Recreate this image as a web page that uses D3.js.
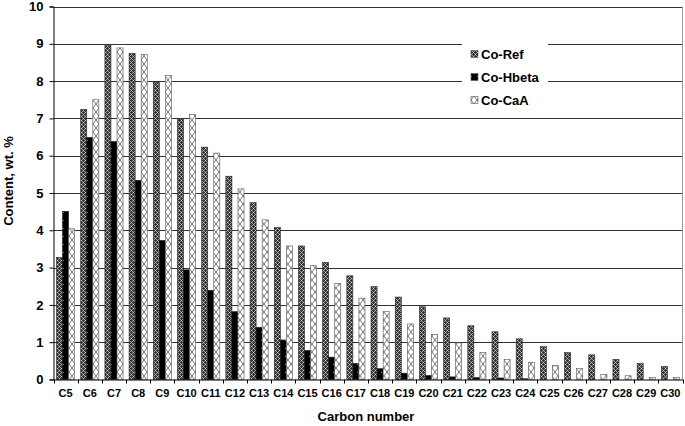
<!DOCTYPE html>
<html>
<head>
<meta charset="utf-8">
<script src="https://cdn.jsdelivr.net/npm/d3@7/dist/d3.min.js"></script>
<style>
  html, body { margin: 0; padding: 0; background: #fff; }
  svg { display: block; font-family: "Liberation Sans", Arial, sans-serif; font-weight: bold; }
</style>
</head>
<body>
<svg id="chart" width="685" height="426"></svg>
<script>
const categories = ["C5","C6","C7","C8","C9","C10","C11","C12","C13","C14","C15","C16","C17","C18","C19","C20","C21","C22","C23","C24","C25","C26","C27","C28","C29","C30"];
const seriesNames = ["Co-Ref", "Co-Hbeta", "Co-CaA"];
const coRef   = [3.27, 7.24, 8.95, 8.74, 7.97, 6.98, 6.23, 5.45, 4.74, 4.07, 3.58, 3.14, 2.78, 2.49, 2.21, 1.95, 1.65, 1.44, 1.28, 1.09, 0.88, 0.72, 0.66, 0.54, 0.43, 0.35];
const coHbeta = [4.51, 6.49, 6.38, 5.34, 3.73, 2.94, 2.39, 1.82, 1.40, 1.06, 0.78, 0.60, 0.43, 0.29, 0.17, 0.11, 0.07, 0.05, 0.04, 0.02, 0.0, 0.0, 0.0, 0.0, 0.0, 0.0];
const coCaA   = [4.04, 7.50, 8.89, 8.71, 8.15, 7.10, 6.07, 5.11, 4.28, 3.58, 3.05, 2.57, 2.18, 1.82, 1.49, 1.21, 0.98, 0.72, 0.54, 0.46, 0.38, 0.29, 0.13, 0.10, 0.05, 0.05];
const yTicks = [0,1,2,3,4,5,6,7,8,9,10];
const yTitle = "Content, wt. %";
const xTitle = "Carbon number";

const seriesValues = [coRef, coHbeta, coCaA];
const svg = d3.select("#chart");

// patterns
const defs = svg.append("defs");
const pRef = defs.append("pattern").attr("id","pRef").attr("patternUnits","userSpaceOnUse").attr("width",4).attr("height",4);
pRef.append("rect").attr("width",4).attr("height",4).attr("fill","#333");
pRef.append("rect").attr("x",1).attr("y",0).attr("width",1).attr("height",1).attr("fill","#d0d0d0");
pRef.append("rect").attr("x",0).attr("y",1).attr("width",1).attr("height",1).attr("fill","#999");
pRef.append("rect").attr("x",2).attr("y",1).attr("width",1).attr("height",1).attr("fill","#999");
pRef.append("rect").attr("x",3).attr("y",2).attr("width",1).attr("height",1).attr("fill","#d0d0d0");
pRef.append("rect").attr("x",2).attr("y",3).attr("width",1).attr("height",1).attr("fill","#999");
pRef.append("rect").attr("x",0).attr("y",3).attr("width",1).attr("height",1).attr("fill","#999");

const pHb = defs.append("pattern").attr("id","pHb").attr("patternUnits","userSpaceOnUse").attr("width",6).attr("height",8);
pHb.append("rect").attr("width",6).attr("height",8).attr("fill","#000");
pHb.append("rect").attr("x",3).attr("y",4).attr("width",1).attr("height",1).attr("fill","#777");

const pCa = defs.append("pattern").attr("id","pCa").attr("patternUnits","userSpaceOnUse").attr("width",6).attr("height",8);
pCa.append("rect").attr("width",6).attr("height",8).attr("fill","#fff");
pCa.append("path").attr("d","M0,0L6,8M6,0L0,8").attr("stroke","#777").attr("stroke-width",1).attr("fill","none");

const patterns = ["url(#pRef)", "url(#pHb)", "url(#pCa)"];

const mLeft = 53.5, mRight = 682.5, mTop = 6.5, mBottom = 379.5;

const x = d3.scaleBand().domain(categories).range([mLeft, mRight]).paddingInner(0.25).paddingOuter(0.125);
const xs = d3.scaleBand().domain(d3.range(3)).range([0, x.bandwidth()]);
const y = d3.scaleLinear().domain([0, 10]).range([mBottom, mTop]);

// gridlines
svg.append("g").selectAll("line").data(yTicks.filter(d => d > 0)).join("line")
  .attr("x1", mLeft).attr("x2", mRight)
  .attr("y1", d => Math.round(y(d)) + 0.5).attr("y2", d => Math.round(y(d)) + 0.5)
  .attr("stroke", "#333").attr("stroke-width", 1);

// right border
svg.append("line").attr("x1", mRight).attr("x2", mRight).attr("y1", mTop).attr("y2", mBottom)
  .attr("stroke", "#999").attr("stroke-width", 1);

// bars
const gBars = svg.append("g");
seriesValues.forEach((vals, si) => {
  gBars.append("g").selectAll("rect").data(vals).join("rect")
    .attr("x", (d, i) => x(categories[i]) + xs(si))
    .attr("width", xs.bandwidth())
    .attr("y", d => y(d))
    .attr("height", d => y(0) - y(d))
    .attr("fill", patterns[si])
    .attr("stroke", si === 2 ? "#555" : "#222")
    .attr("stroke-width", 0.6);
});

// y axis
const yAxis = d3.axisLeft(y).tickValues(yTicks).tickSize(4).tickPadding(6).tickFormat(d3.format("d"));
const gy = svg.append("g").attr("transform", `translate(${mLeft},0)`).call(yAxis);
gy.select(".domain").attr("stroke", "#000");
gy.selectAll(".tick line").attr("stroke", "#000");
gy.selectAll(".tick text").attr("font-size", 13).attr("font-weight", "bold")
  .attr("font-family", '"Liberation Sans", Arial, sans-serif').attr("fill", "#000");

// x axis
const xAxis = d3.axisBottom(x).tickSize(0).tickPadding(10);
const gx = svg.append("g").attr("transform", `translate(0,${mBottom})`).call(xAxis);
gx.select(".domain").attr("stroke", "#000");
gx.selectAll(".tick text").attr("font-size", 11).attr("font-weight", "bold")
  .attr("font-family", '"Liberation Sans", Arial, sans-serif').attr("fill", "#000");
// category boundary ticks
const step = x.step();
svg.append("g").selectAll("line").data(d3.range(categories.length + 1)).join("line")
  .attr("x1", i => Math.round(mLeft + i * step) + 0.5)
  .attr("x2", i => Math.round(mLeft + i * step) + 0.5)
  .attr("y1", mBottom).attr("y2", mBottom + 4)
  .attr("stroke", "#000");

// titles
svg.append("text").attr("x", 366).attr("y", 420.5).attr("text-anchor", "middle")
  .attr("font-size", 13).text(xTitle);
svg.append("text").attr("transform", `translate(13,181) rotate(-90)`)
  .attr("text-anchor", "middle").attr("font-size", 13).text(yTitle);

// legend
const lg = svg.append("g");
lg.append("rect").attr("x", 462).attr("y", 40).attr("width", 86).attr("height", 72).attr("fill", "#fff");
seriesNames.forEach((name, i) => {
  const cy = 54 + i * 23;
  lg.append("rect").attr("x", 471).attr("y", cy - 3.5).attr("width", 7).attr("height", 7)
    .attr("fill", patterns[i]).attr("stroke", "#555").attr("stroke-width", 0.6);
  lg.append("text").attr("x", 481).attr("y", cy + 4.5).attr("font-size", 13).text(name);
});
</script>
</body>
</html>
